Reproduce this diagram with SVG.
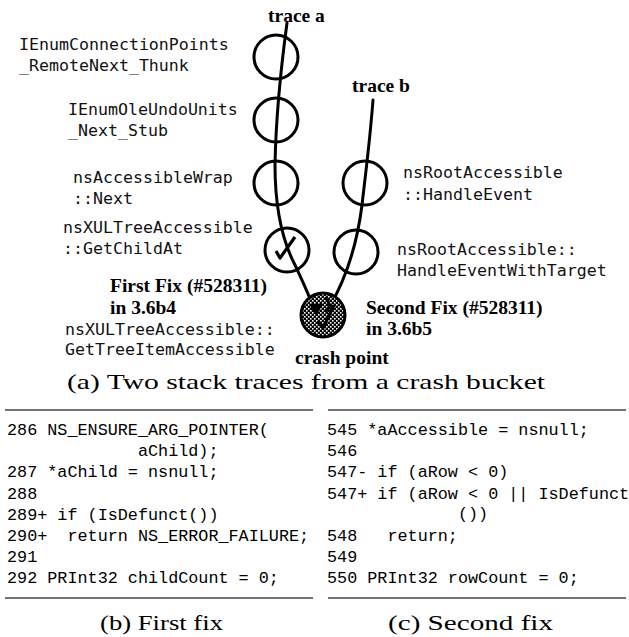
<svg xmlns="http://www.w3.org/2000/svg" width="629" height="637" viewBox="0 0 629 637">
<style>
.lbl{font-family:"DejaVu Sans Mono","Liberation Mono",monospace;font-size:16.6px;fill:#111}
.bold{font-family:"Liberation Serif","Times New Roman",serif;font-weight:bold;font-size:19.5px;fill:#000}
.code{font-family:"Liberation Mono","Courier New",monospace;font-size:16.8px;fill:#000}
.cap{font-family:"Liberation Serif","Times New Roman",serif;font-size:21px;fill:#000}
.node{fill:none;stroke:#000;stroke-width:3}
.trace{fill:none;stroke:#000;stroke-width:3;stroke-linecap:round}
.rule{stroke:#444;stroke-width:1.4}
</style>
<defs>
<pattern id="dots" width="4" height="4" patternUnits="userSpaceOnUse">
<rect width="4" height="4" fill="#000"/>
<rect x="0" y="0" width="1.6" height="1.6" fill="#fff"/>
<rect x="2" y="2" width="1.6" height="1.6" fill="#fff"/>
</pattern>
</defs>

<g id="trace-labels">
<text class="bold" x="268" y="22">trace a</text>
<text class="bold" x="352" y="92">trace b</text>
</g>

<g id="connectors">
<path class="trace" d="M287 23 C282 60,276 110,275 165 C275 205,282 240,295 265 C302 280,308 292,316 314"/>
<path class="trace" d="M373 100 C370 140,366 170,362 205 C357 245,345 280,330 306"/>
</g>

<g id="n1">
<circle class="node" cx="276" cy="57" r="22"/>
<text class="lbl" x="19" y="50">IEnumConnectionPoints</text>
<text class="lbl" x="19" y="71">_RemoteNext_Thunk</text>
</g>
<g id="n2">
<circle class="node" cx="276" cy="120" r="22"/>
<text class="lbl" x="68" y="115">IEnumOleUndoUnits</text>
<text class="lbl" x="68" y="136">_Next_Stub</text>
</g>
<g id="n3">
<circle class="node" cx="276" cy="183" r="22"/>
<text class="lbl" x="73" y="183">nsAccessibleWrap</text>
<text class="lbl" x="73" y="204">::Next</text>
</g>
<g id="n4">
<circle class="node" cx="287" cy="250" r="22"/>
<path d="M276 251 L280 258 L295 237" fill="none" stroke="#000" stroke-width="3.2" stroke-linejoin="round"/>
<text class="lbl" x="63" y="233">nsXULTreeAccessible</text>
<text class="lbl" x="63" y="254">::GetChildAt</text>
</g>
<g id="n5">
<circle class="node" cx="365" cy="183" r="22"/>
<text class="lbl" x="403" y="178">nsRootAccessible</text>
<text class="lbl" x="403" y="200">::HandleEvent</text>
</g>
<g id="n6">
<circle class="node" cx="356" cy="252" r="22"/>
<text class="lbl" x="397" y="255">nsRootAccessible::</text>
<text class="lbl" x="397" y="276">HandleEventWithTarget</text>
</g>
<g id="crash">
<circle cx="323" cy="315" r="22" fill="url(#dots)" stroke="#000" stroke-width="3"/>
<path d="M309 304 L323 304 L316 316 Z" fill="#000"/>
<path d="M318 321 L323 328 L334 305" fill="none" stroke="#000" stroke-width="3.2" stroke-linejoin="round"/>
<path d="M326 297 L330 306 L325 312" fill="none" stroke="#000" stroke-width="3"/>
<text class="lbl" x="65" y="335">nsXULTreeAccessible::</text>
<text class="lbl" x="65" y="355">GetTreeItemAccessible</text>
<text class="bold" x="295" y="364">crash point</text>
</g>

<g id="fixes">
<text class="bold" x="110" y="292">First Fix (#528311)</text>
<text class="bold" x="110" y="314">in 3.6b4</text>
<text class="bold" x="366" y="314">Second Fix (#528311)</text>
<text class="bold" x="366" y="335">in 3.6b5</text>
</g>

<text class="cap" x="67" y="389" textLength="478" lengthAdjust="spacingAndGlyphs">(a) Two stack traces from a crash bucket</text>

<g id="code-b">
<line class="rule" x1="5" y1="410" x2="313" y2="410"/>
<line class="rule" x1="5" y1="598" x2="313" y2="598"/>
<text class="code" xml:space="preserve" x="7" y="435">286 NS_ENSURE_ARG_POINTER(</text>
<text class="code" xml:space="preserve" x="7" y="456">             aChild);</text>
<text class="code" xml:space="preserve" x="7" y="477">287 *aChild = nsnull;</text>
<text class="code" xml:space="preserve" x="7" y="498.5">288</text>
<text class="code" xml:space="preserve" x="7" y="520">289+ if (IsDefunct())</text>
<text class="code" xml:space="preserve" x="7" y="541">290+  return NS_ERROR_FAILURE;</text>
<text class="code" xml:space="preserve" x="7" y="562">291</text>
<text class="code" xml:space="preserve" x="7" y="583">292 PRInt32 childCount = 0;</text>
<text class="cap" x="100" y="630" textLength="123" lengthAdjust="spacingAndGlyphs">(b) First fix</text>
</g>

<g id="code-c">
<line class="rule" x1="328" y1="410" x2="626" y2="410"/>
<line class="rule" x1="328" y1="598" x2="626" y2="598"/>
<text class="code" xml:space="preserve" x="327" y="435">545 *aAccessible = nsnull;</text>
<text class="code" xml:space="preserve" x="327" y="456">546</text>
<text class="code" xml:space="preserve" x="327" y="477">547- if (aRow &lt; 0)</text>
<text class="code" xml:space="preserve" x="327" y="498.5">547+ if (aRow &lt; 0 || IsDefunct</text>
<text class="code" xml:space="preserve" x="327" y="519">             ())</text>
<text class="code" xml:space="preserve" x="327" y="541">548   return;</text>
<text class="code" xml:space="preserve" x="327" y="562">549</text>
<text class="code" xml:space="preserve" x="327" y="583">550 PRInt32 rowCount = 0;</text>
<text class="cap" x="388" y="630" textLength="165" lengthAdjust="spacingAndGlyphs">(c) Second fix</text>
</g>
</svg>
